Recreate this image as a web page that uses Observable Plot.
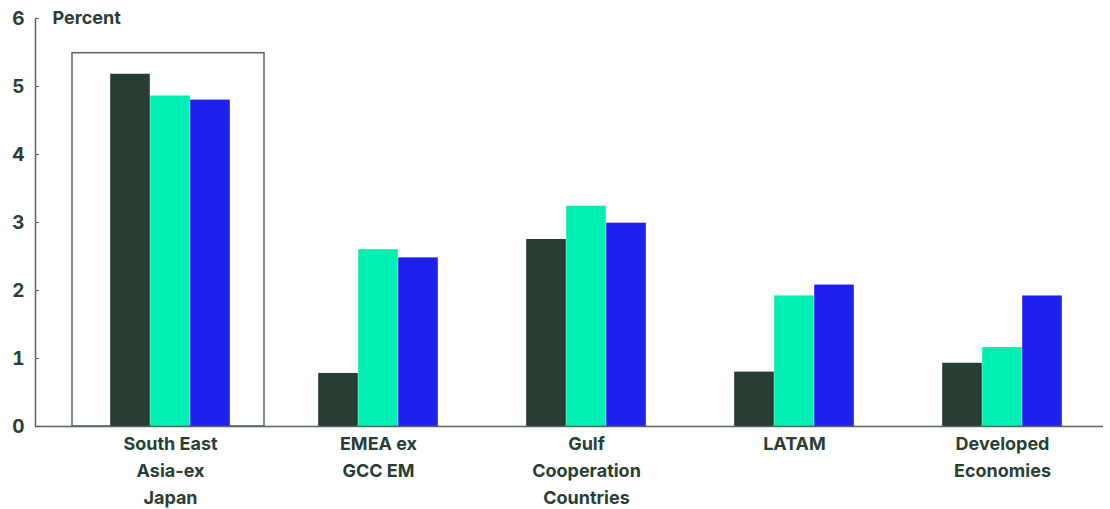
<!DOCTYPE html>
<html>
<head>
<meta charset="utf-8">
<script src="https://cdn.jsdelivr.net/npm/d3@7"></script>
<script src="https://cdn.jsdelivr.net/npm/@observablehq/plot@0.6"></script>
<style>
  html, body { margin: 0; padding: 0; background: #ffffff; }
  #chart { width: 1110px; height: 509px; }
</style>
</head>
<body>
<div id="chart"></div>
<script>
const regions = ["South East Asia-ex Japan", "EMEA ex GCC EM", "Gulf Cooperation Countries", "LATAM", "Developed Economies"];
const regionLabels = ["South East\nAsia-ex\nJapan", "EMEA ex\nGCC EM", "Gulf\nCooperation\nCountries", "LATAM", "Developed\nEconomies"];
const seriesA = [5.18, 0.78, 2.75, 0.80, 0.93];
const seriesB = [4.86, 2.60, 3.24, 1.92, 1.16];
const seriesC = [4.80, 2.48, 2.99, 2.08, 1.92];
const yTicks = [0, 1, 2, 3, 4, 5, 6];
const highlightRegion = "South East Asia-ex Japan";
const highlightTop = 5.49;
const yLabel = "Percent";

const colors = ["#283e33", "#00efb2", "#2020ec"];
const textColor = "#2a3f34";
const axisColor = "#56665e";

const rows = (vals) => regions.map((r, i) => ({region: r, value: vals[i]}));
const barW = 40;
const x0 = 64.5, x1 = 1106.5;
const step = (x1 - x0) / regions.length;
const inset = (step - barW) / 2;

const chart = Plot.plot({
  width: 1110,
  height: 509,
  marginTop: 18,
  marginBottom: 83,
  marginLeft: 35,
  marginRight: 7,
  style: {fontFamily: "Inter, 'Noto Sans', sans-serif", fontSize: "18px", fontWeight: 700, color: textColor, background: "#ffffff"},
  x: {domain: regions, range: [x0, x1], padding: 0},
  y: {domain: [0, 6]},
  marks: [
    Plot.rectY([{region: highlightRegion, top: highlightTop}], {x: "region", y1: 0, y2: "top", insetLeft: 6, insetRight: 10, fill: "none", stroke: axisColor, strokeWidth: 1.5}),
    Plot.barY(rows(seriesA), {x: "region", y: "value", fill: colors[0], insetLeft: inset, insetRight: inset, dx: -barW}),
    Plot.barY(rows(seriesB), {x: "region", y: "value", fill: colors[1], insetLeft: inset, insetRight: inset}),
    Plot.barY(rows(seriesC), {x: "region", y: "value", fill: colors[2], insetLeft: inset, insetRight: inset, dx: barW}),
    Plot.ruleY([0], {stroke: axisColor, strokeWidth: 1.5}),
    Plot.frame({anchor: "left", stroke: axisColor, strokeWidth: 1.5}),
    Plot.axisY(yTicks, {tickSize: -4, tickPadding: 15, stroke: axisColor, fill: textColor, tickFormat: d => String(d), label: null, fontSize: 19, fontWeight: 700}),
    Plot.axisX({tickSize: 0, tickPadding: 4, tickFormat: (d) => regionLabels[regions.indexOf(d)], lineHeight: 1.5, fill: textColor, label: null, fontSize: 18, fontWeight: 700}),
    Plot.text([yLabel], {frameAnchor: "top-left", dx: 17, lineAnchor: "middle", textAnchor: "start", fill: textColor, fontSize: 18, fontWeight: 700})
  ]
});
document.getElementById("chart").appendChild(chart);
</script>
</body>
</html>
